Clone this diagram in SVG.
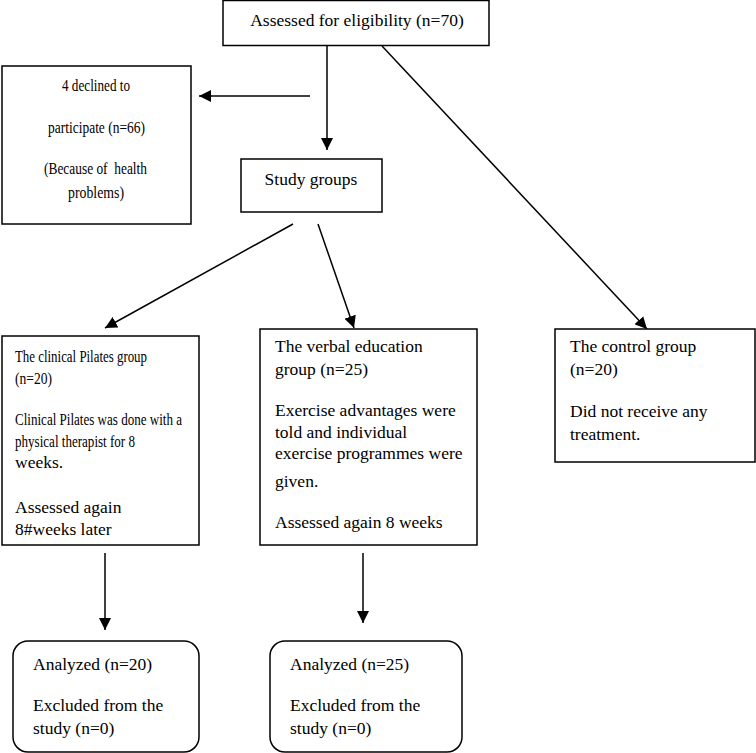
<svg xmlns="http://www.w3.org/2000/svg" width="756" height="753" viewBox="0 0 756 753">
<defs>
<style>
.box{fill:#fff;stroke:#000;stroke-width:1.5}
.t{font-family:"Liberation Serif","Times New Roman",serif;font-size:17.5px;fill:#000}
.c{text-anchor:middle}
.ln{stroke:#000;stroke-width:1.5;fill:none}
</style>
<marker id="ahb" viewBox="0 0 12 12" refX="12" refY="6" markerWidth="12" markerHeight="12" markerUnits="userSpaceOnUse" orient="auto">
<path d="M0,0 L12,6 L0,12 z" fill="#000"/>
</marker>
</defs>
<rect width="756" height="753" fill="#fff"/>
<g id="connectors">
<line class="ln" x1="310" y1="96" x2="199" y2="96" marker-end="url(#ahb)"/>
<line class="ln" x1="327" y1="46" x2="327" y2="150" marker-end="url(#ahb)"/>
<line class="ln" x1="382" y1="46" x2="647" y2="329" marker-end="url(#ahb)"/>
<line class="ln" x1="293" y1="224" x2="105" y2="328" marker-end="url(#ahb)"/>
<line class="ln" x1="318" y1="224" x2="354" y2="328" marker-end="url(#ahb)"/>
<line class="ln" x1="105" y1="553" x2="105" y2="630" marker-end="url(#ahb)"/>
<line class="ln" x1="363" y1="553" x2="363" y2="623" marker-end="url(#ahb)"/>
</g>
<g id="eligibility">
<rect class="box" x="223" y="0.5" width="266" height="45"/>
<text class="t c" x="357" y="26">Assessed for eligibility (n=70)</text>
</g>
<g id="declined">
<rect class="box" x="2" y="66" width="189" height="158"/>
<text class="t" x="62" y="91" textLength="68" lengthAdjust="spacingAndGlyphs">4 declined to</text>
<text class="t" x="48" y="133" textLength="97" lengthAdjust="spacingAndGlyphs">participate (n=66)</text>
<text class="t" x="44" y="174" textLength="103" lengthAdjust="spacingAndGlyphs" style="white-space:pre">(Because of  health</text>
<text class="t" x="68" y="198" textLength="56" lengthAdjust="spacingAndGlyphs">problems)</text>
</g>
<g id="study">
<rect class="box" x="241" y="159" width="141" height="53"/>
<text class="t c" x="311" y="185">Study groups</text>
</g>
<g id="pilates">
<rect class="box" x="2" y="336" width="197" height="209"/>
<text class="t" x="15" y="362" textLength="132" lengthAdjust="spacingAndGlyphs">The clinical Pilates group</text>
<text class="t" x="15" y="384" textLength="37" lengthAdjust="spacingAndGlyphs">(n=20)</text>
<text class="t" x="15" y="425" textLength="167" lengthAdjust="spacingAndGlyphs">Clinical Pilates was done with a</text>
<text class="t" x="15" y="447" textLength="120" lengthAdjust="spacingAndGlyphs">physical therapist for 8</text>
<text class="t" x="15" y="468">weeks.</text>
<text class="t" x="15" y="513">Assessed again</text>
<text class="t" x="15" y="535">8#weeks later</text>
</g>
<g id="verbal">
<rect class="box" x="260" y="329" width="217" height="216"/>
<text class="t" x="275" y="352">The verbal education</text>
<text class="t" x="275" y="375">group (n=25)</text>
<text class="t" x="275" y="416">Exercise advantages were</text>
<text class="t" x="275" y="438">told and individual</text>
<text class="t" x="275" y="459">exercise programmes were</text>
<text class="t" x="275" y="487">given.</text>
<text class="t" x="275" y="528">Assessed again 8 weeks</text>
</g>
<g id="control">
<rect class="box" x="555" y="329" width="200" height="133"/>
<text class="t" x="570" y="352">The control group</text>
<text class="t" x="570" y="375">(n=20)</text>
<text class="t" x="570" y="417">Did not receive any</text>
<text class="t" x="570" y="440">treatment.</text>
</g>
<g id="analyzed1">
<rect class="box" x="13" y="641" width="186" height="111" rx="15" ry="15"/>
<text class="t" x="33" y="670">Analyzed (n=20)</text>
<text class="t" x="33" y="711">Excluded from the</text>
<text class="t" x="33" y="734">study (n=0)</text>
</g>
<g id="analyzed2">
<rect class="box" x="270" y="641" width="192" height="111" rx="15" ry="15"/>
<text class="t" x="290" y="670">Analyzed (n=25)</text>
<text class="t" x="290" y="711">Excluded from the</text>
<text class="t" x="290" y="734">study (n=0)</text>
</g>
</svg>
